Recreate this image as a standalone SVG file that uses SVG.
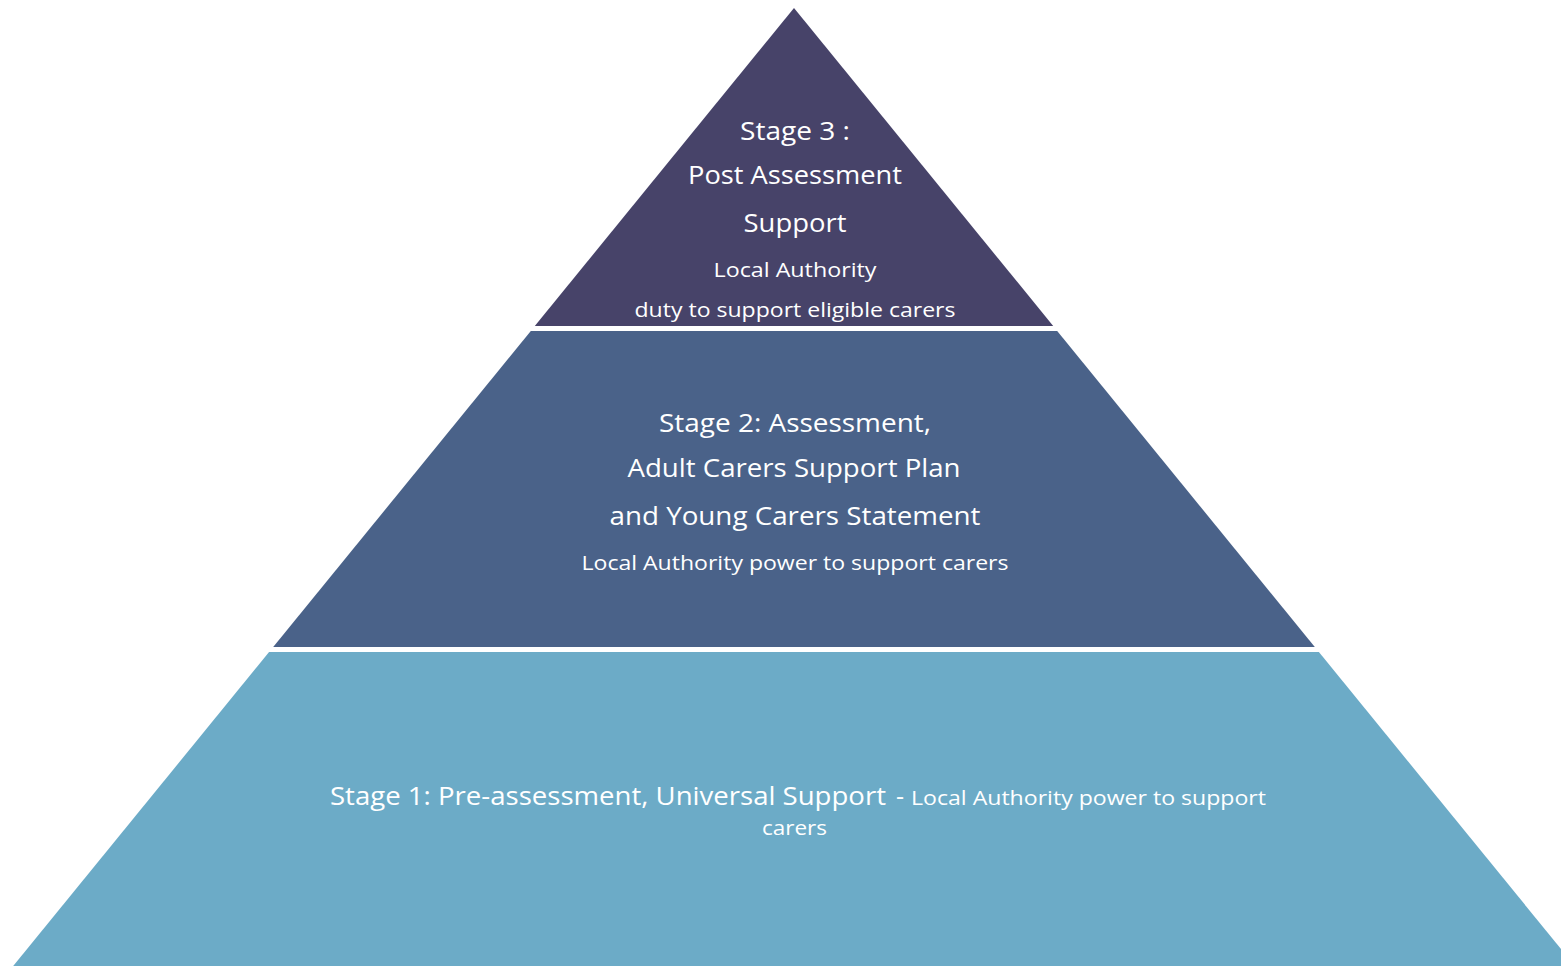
<svg xmlns="http://www.w3.org/2000/svg" width="1561" height="966" viewBox="0 0 1561 966">
<style>
.t{font-family:"Open Sans","Noto Sans","Liberation Sans",sans-serif;fill:#ffffff;text-anchor:middle}
.l{font-size:25px}
.s{font-size:20px}
</style>
<rect x="0" y="0" width="1561" height="966" fill="#ffffff"/>
<g id="stage3">
<polygon points="794,8 1053.2,326 534.8,326" fill="#474369"/>
<text class="t l" x="795" y="140" textLength="110" lengthAdjust="spacingAndGlyphs">Stage 3 :</text>
<text class="t l" x="795" y="184" textLength="214" lengthAdjust="spacingAndGlyphs">Post Assessment</text>
<text class="t l" x="795" y="232" textLength="103" lengthAdjust="spacingAndGlyphs">Support</text>
<text class="t s" x="795" y="277" textLength="163" lengthAdjust="spacingAndGlyphs">Local Authority</text>
<text class="t s" x="795" y="317" textLength="321" lengthAdjust="spacingAndGlyphs">duty to support eligible carers</text>
</g>
<g id="stage2">
<polygon points="530.8,331 1057.2,331 1314.8,647 273.2,647" fill="#4A6289"/>
<text class="t l" x="795" y="432" textLength="272" lengthAdjust="spacingAndGlyphs">Stage 2: Assessment,</text>
<text class="t l" x="794" y="477" textLength="333" lengthAdjust="spacingAndGlyphs">Adult Carers Support Plan</text>
<text class="t l" x="795" y="525" textLength="371" lengthAdjust="spacingAndGlyphs">and Young Carers Statement</text>
<text class="t s" x="795" y="570" textLength="427" lengthAdjust="spacingAndGlyphs">Local Authority power to support carers</text>
</g>
<g id="stage1">
<polygon points="269.1,652 1318.9,652 1574.8,966 13.2,966" fill="#6CABC7"/>
<text class="t l" x="608" y="805" textLength="556" lengthAdjust="spacingAndGlyphs">Stage 1: Pre-assessment, Universal Support</text>
<text class="t l" x="900" y="805">-</text>
<text class="t s" x="1088.5" y="805" textLength="355" lengthAdjust="spacingAndGlyphs">Local Authority power to support</text>
<text class="t s" x="794.5" y="835" textLength="65" lengthAdjust="spacingAndGlyphs">carers</text>
</g>
<g id="connectors"/>
</svg>
